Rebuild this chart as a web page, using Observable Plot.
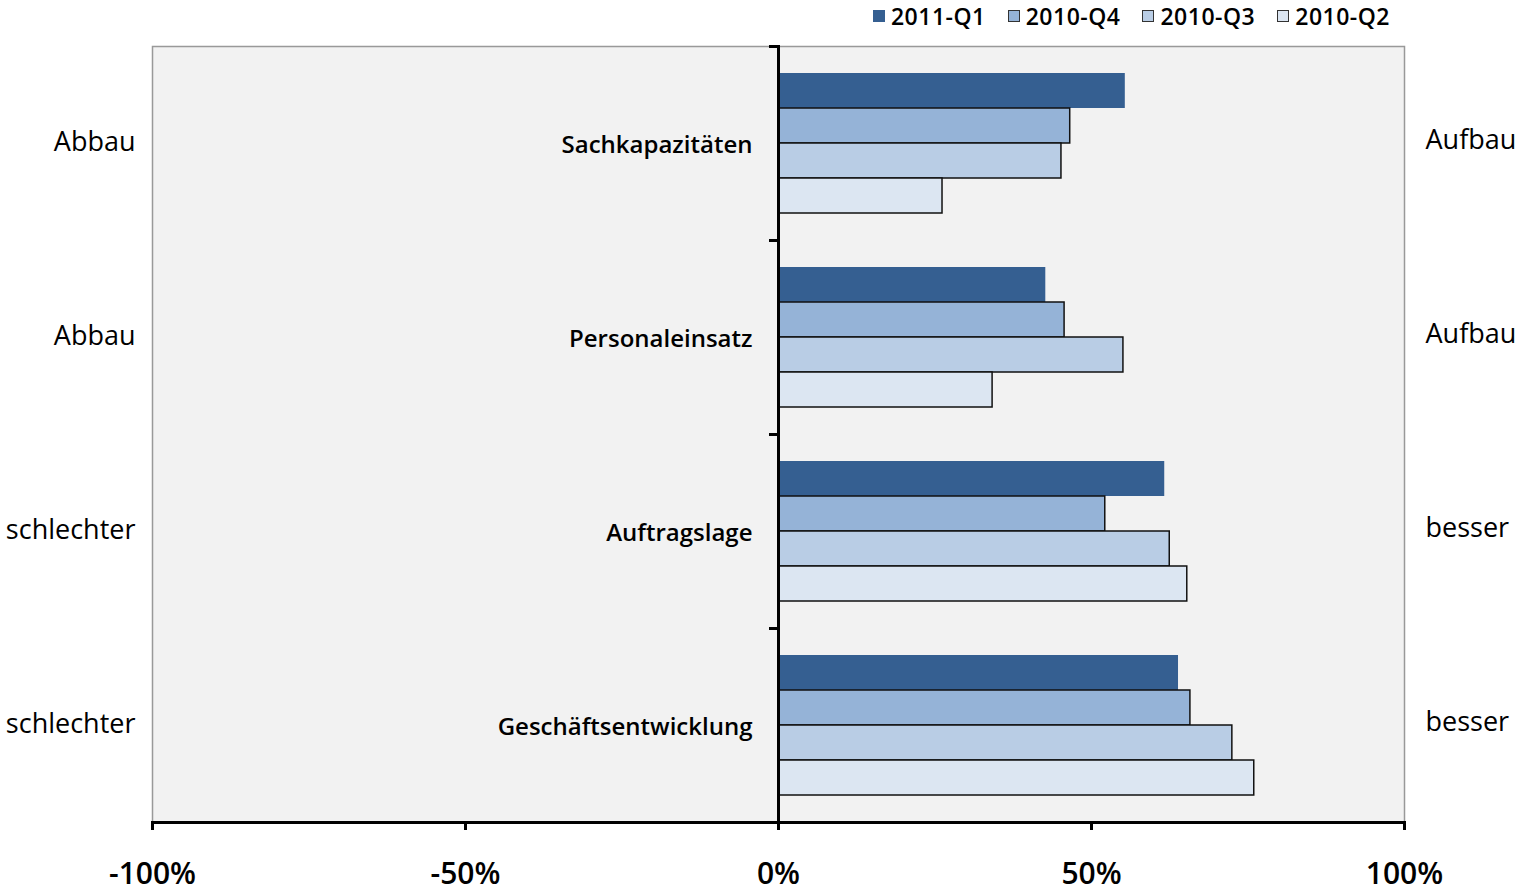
<!DOCTYPE html>
<html>
<head>
<meta charset="utf-8">
<script src="https://cdn.jsdelivr.net/npm/d3@7"></script>
<script src="https://cdn.jsdelivr.net/npm/@observablehq/plot@0.6"></script>
<style>
  html, body { margin: 0; padding: 0; background: #fff; }
  body { width: 1534px; height: 890px; position: relative; overflow: hidden; font-family: "Open Sans", sans-serif; }
  #legend { position: absolute; top: 1px; right: 144px; height: 30px; display: flex; align-items: center; gap: 22px; font-size: 23px; font-weight: 600; color: #000; letter-spacing: 0.5px; }
  #legend .item { display: flex; align-items: center; gap: 6px; }
  #legend .sw { width: 12px; height: 12px; border: 1px solid #333; box-sizing: border-box; }
  #chart { position: absolute; top: 46px; left: 0; }
</style>
</head>
<body>
<div id="legend"></div>
<div id="chart"></div>
<script>
const categories = ["Sachkapazitäten", "Personaleinsatz", "Auftragslage", "Geschäftsentwicklung"];
const series = ["2011-Q1", "2010-Q4", "2010-Q3", "2010-Q2"];
const values2011Q1 = [55.4, 42.7, 61.7, 63.9];
const values2010Q4 = [46.6, 45.7, 52.2, 65.8];
const values2010Q3 = [45.2, 55.1, 62.5, 72.5];
const values2010Q2 = [26.2, 34.2, 65.3, 76.0];
const leftLabels = ["Abbau", "Abbau", "schlechter", "schlechter"];
const rightLabels = ["Aufbau", "Aufbau", "besser", "besser"];
const xTicks = [-100, -50, 0, 50, 100];
const colors = ["#355f91", "#95b3d7", "#b9cde5", "#dce6f2"];

const seriesValues = [values2011Q1, values2010Q4, values2010Q3, values2010Q2];
const rows = [];
categories.forEach((c, i) => series.forEach((s, j) => rows.push({category: c, series: s, value: seriesValues[j][i]})));
const sideRows = categories.map((c, i) => ({category: c, left: leftLabels[i], right: rightLabels[i]}));

// legend
const legend = document.getElementById("legend");
series.forEach((s, j) => {
  const it = document.createElement("div");
  it.className = "item";
  const sw = document.createElement("span");
  sw.className = "sw";
  sw.style.background = colors[j];
  if (j === 0) sw.style.borderColor = colors[0];
  const t = document.createElement("span");
  t.textContent = s;
  it.append(sw, t);
  legend.append(it);
});

const W = 1534, H = 844, mL = 152, mR = 130, mT = 0, mB = 68;
const plotW = W - mL - mR;
const font = "'Open Sans', sans-serif";

const chart = Plot.plot({
  width: W,
  height: H,
  marginLeft: mL,
  marginRight: mR,
  marginTop: mT,
  marginBottom: mB,
  style: {fontFamily: font, color: "#000", background: "#fff", overflow: "visible"},
  x: {domain: [-100, 100], axis: null},
  y: {domain: series, paddingInner: 0, paddingOuter: 0.77, axis: null},
  fy: {domain: categories, padding: 0, axis: null},
  color: {domain: series, range: colors},
  marks: [
    Plot.frame({facet: "super", fill: "#f2f2f2", stroke: "#999", strokeWidth: 1.5}),
    Plot.barX(rows.filter(d => d.series === series[0]), {x: "value", y: "series", fy: "category", fill: "series"}),
    Plot.barX(rows.filter(d => d.series !== series[0]), {x: "value", y: "series", fy: "category", fill: "series", stroke: "#111", strokeWidth: 1.5}),
    Plot.ruleX([0], {stroke: "#000", strokeWidth: 3}),
    Plot.frame({anchor: "top", stroke: "#000", strokeWidth: 3, insetLeft: plotW / 2 - 8, insetRight: plotW / 2}),
    Plot.frame({facet: "super", anchor: "bottom", stroke: "#000", strokeWidth: 3}),
    Plot.text(categories, {fy: d => d, x: 0, text: d => d, dx: -26, dy: 2, textAnchor: "end", fontSize: 24, fontWeight: 600, fill: "#000"}),
    Plot.text(sideRows, {fy: "category", x: -100, text: "left", dx: -17, dy: -1, textAnchor: "end", fontSize: 27, fill: "#000"}),
    Plot.text(sideRows, {fy: "category", x: 100, text: "right", dx: 21, dy: -3, textAnchor: "start", fontSize: 27, fill: "#000"}),
    Plot.axisX(xTicks, {anchor: "bottom", label: null, tickFormat: d => d + "%", tickSize: 8, tickPadding: 32, fontSize: 30, fontWeight: 600, stroke: "#000", strokeWidth: 3, fill: "#000"})
  ]
});
document.getElementById("chart").append(chart);
</script>
</body>
</html>
